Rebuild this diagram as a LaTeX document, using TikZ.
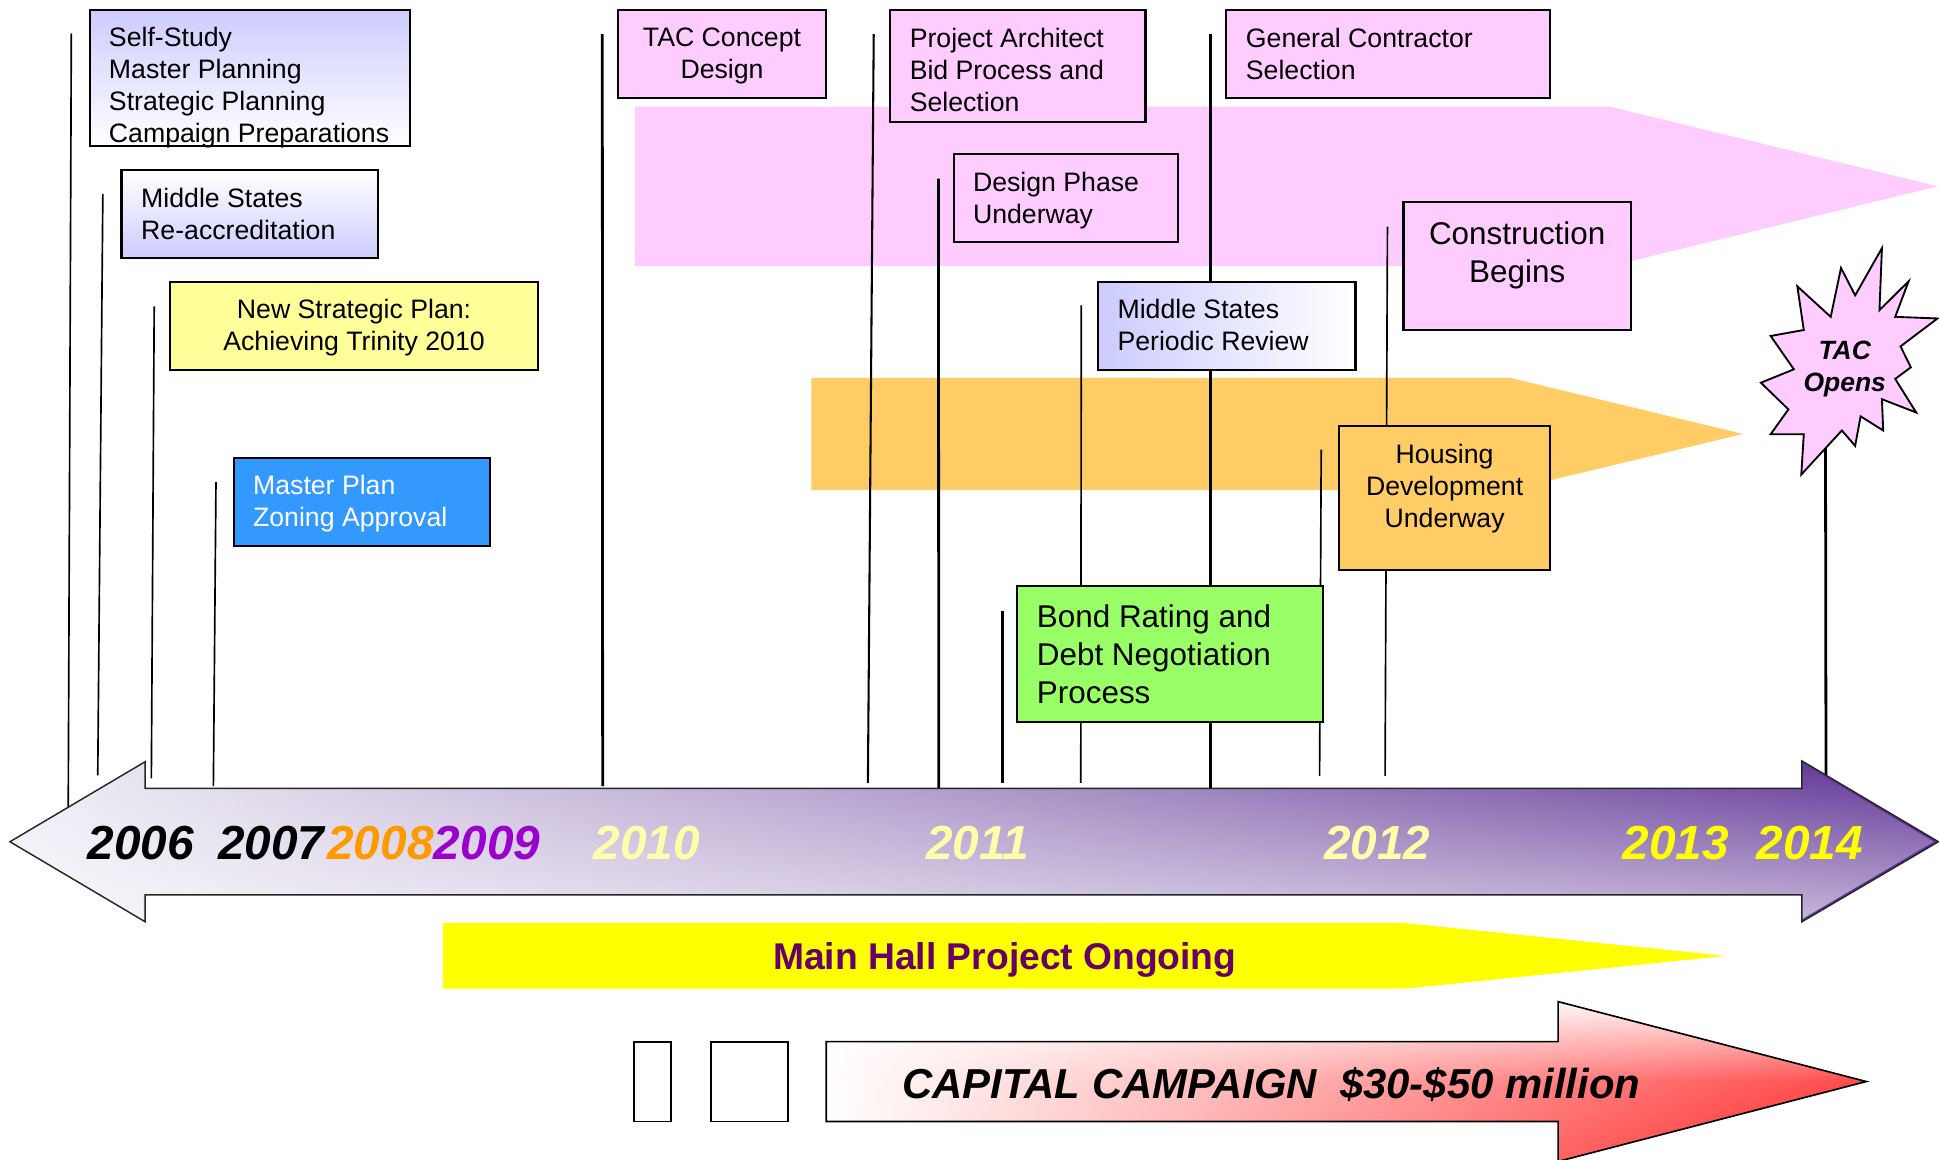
\documentclass[tikz,border=0pt]{standalone}
\usepackage{fontspec}
\setmainfont{Liberation Sans}
\usetikzlibrary{fit,fadings}
\definecolor{pinkc}{HTML}{FFCCFF}
\definecolor{orangec}{HTML}{FFCC66}
\definecolor{bandyellow}{HTML}{FFFF00}
\definecolor{paleyellow}{HTML}{FFFF99}
\definecolor{bluec}{HTML}{3399FF}
\definecolor{greenc}{HTML}{99FF66}
\definecolor{lav}{HTML}{CCCCFF}
\definecolor{hallc}{HTML}{660066}
\definecolor{y08}{HTML}{FF9900}
\definecolor{y09}{HTML}{9900CC}
\definecolor{ylt}{HTML}{FFFFAA}
\definecolor{ybright}{HTML}{FFFF00}
\definecolor{arrowdark}{HTML}{5A2D91}
\definecolor{arrowlight}{HTML}{F0EEF6}
\definecolor{campred}{HTML}{FF2020}
\tikzfading[name=fadebottom, top color=transparent!100, bottom color=transparent!0]
\tikzfading[name=fadetop, top color=transparent!0, bottom color=transparent!100, middle color=transparent!80]
\begin{document}
\begin{tikzpicture}[x=0.6pt,y=-0.6pt,
  box/.style={draw=black, line width=1.1pt, inner sep=0pt},
  txt/.style={inner sep=0pt, align=left, anchor=north west, font=\fontsize{12.9pt}{15.5pt}\selectfont},
  ctxt/.style={txt, align=center, anchor=north},
  bigtxt/.style={inner sep=0pt, align=left, anchor=north west, font=\fontsize{15.2pt}{18.5pt}\selectfont},
  yearlbl/.style={inner sep=0pt, font=\fontsize{23.1pt}{26pt}\selectfont\bfseries\itshape},
  leadthin/.style={line width=0.8pt},
  leadmid/.style={line width=1.0pt},
  leadthick/.style={line width=1.35pt}]
\useasboundingbox (0,0) rectangle (1563,934.26);
\fill[white] (0,0) rectangle (1563,934.26);

% bands
\fill[pinkc] (512,86) -- (1298,86) -- (1562,150.2) -- (1298,214.5) -- (512,214.5) -- cycle;
\fill[orangec] (654,304.5) -- (1217,304.5) -- (1405,349.8) -- (1217,395) -- (654,395) -- cycle;

% leader lines
\coordinate (l1t) at (57.5,26.8);   \coordinate (l1b) at (55,652);
\coordinate (l2t) at (82.9,156.3);  \coordinate (l2b) at (78.8,625);
\coordinate (l3t) at (124.3,247);   \coordinate (l3b) at (122,627.4);
\coordinate (l4t) at (174.1,388.6); \coordinate (l4b) at (172,633.6);
\coordinate (l5t) at (485.5,27.6);  \coordinate (l5b) at (485.8,633.6);
\coordinate (l6t) at (704.3,27.6);  \coordinate (l6b) at (699.6,631);
\coordinate (l7t) at (756.5,144);   \coordinate (l7b) at (756.7,635.5);
\coordinate (l8t) at (808.2,492.3); \coordinate (l8b) at (808.2,631);
\coordinate (l9t) at (871.6,246.2); \coordinate (l9b) at (871.2,631);
\coordinate (l10t) at (975.6,27.6); \coordinate (l10b) at (975.6,635.5);
\coordinate (l11t) at (1065,362.5); \coordinate (l11b) at (1063.7,625.5);
\coordinate (l12t) at (1118.4,182.6); \coordinate (l12b) at (1116.5,625.5);
\coordinate (l13t) at (1471.5,350); \coordinate (l13b) at (1471.9,626);
\draw[leadthin] (l1t) -- (l1b);
\draw[leadthin] (l2t) -- (l2b);
\draw[leadthin] (l3t) -- (l3b);
\draw[leadthin] (l4t) -- (l4b);
\draw[leadthick] (l5t) -- (l5b);
\draw[leadmid] (l6t) -- (l6b);
\draw[leadthick] (l7t) -- (l7b);
\draw[leadthick] (l8t) -- (l8b);
\draw[leadthin] (l9t) -- (l9b);
\draw[leadthick] (l10t) -- (l10b);
\draw[leadthin] (l11t) -- (l11b);
\draw[leadthin] (l12t) -- (l12b);
\draw[leadthick] (l13t) -- (l13b);

% boxes
\node[box, fit={(72.5,8) (330.6,117.7)}, top color=lav, bottom color=white] (selfstudy) {};
\node[txt] (selfstudytxt) at (87.5,21.5) {Self-Study\\Master Planning\\Strategic Planning\\Campaign Preparations};

\node[box, fit={(97.9,137) (304.8,207.9)}, top color=white, bottom color=lav] (msreacc) {};
\node[txt] (msreacctxt) at (113.5,151) {Middle States\\Re-accreditation};

\node[box, fill=paleyellow, fit={(137,227.4) (433.8,298.2)}] (newplan) {};
\node[ctxt] (newplantxt) at (285.4,240.7) {New Strategic Plan:\\Achieving Trinity 2010};

\node[box, fill=bluec, fit={(188.8,369.4) (395,439.9)}] (zoning) {};
\node[txt, text=white] (zoningtxt) at (203.7,382.8) {Master Plan\\Zoning Approval};

\node[box, fill=pinkc, fit={(498,8) (666,78.9)}] (tacconcept) {};
\node[ctxt] (tacconcepttxt) at (582,22) {TAC Concept\\Design};

\node[box, fill=pinkc, fit={(717.5,8) (923.4,98.4)}] (architect) {};
\node[txt] (architecttxt) at (733,22) {Project Architect\\Bid Process and\\Selection};

\node[box, fill=pinkc, fit={(769,124.4) (949.6,195.2)}] (designphase) {};
\node[txt] (designphasetxt) at (784,138.4) {Design Phase\\Underway};

\node[box, fill=pinkc, fit={(988.1,8) (1249.7,78.7)}] (contractor) {};
\node[txt] (contractortxt) at (1004,22) {General Contractor\\Selection};

\node[box, fit={(884.9,227.4) (1092.6,298)}, left color=lav, right color=white] (msperiodic) {};
\node[txt] (msperiodictxt) at (900.5,241) {Middle States\\Periodic Review};

\node[box, fill=pinkc, fit={(1131.3,162.6) (1315,265.9)}] (construction) {};
\node[bigtxt, align=center, anchor=north] (constructiontxt) at (1223,178.1) {Construction\\Begins};

\node[box, fill=orangec, fit={(1079.3,343.4) (1249.7,459.6)}] (housing) {};
\node[ctxt] (housingtxt) at (1164.5,357.5) {Housing\\Development\\Underway};

\node[box, fill=greenc, fit={(820,472.4) (1066.3,582.2)}] (bond) {};
\node[bigtxt] (bondtxt) at (835.5,487) {Bond Rating and\\Debt Negotiation\\Process};

% starburst
\draw[line width=0.9pt, fill=pinkc] (1517,200) -- (1515,250) -- (1538.5,226.7) -- (1527.7,255.4) -- (1561.8,256.7) -- (1532,279.2) -- (1540.3,296.1) -- (1527.7,305.4) -- (1544.6,332.5) -- (1517,321.8) -- (1518,347) -- (1499.8,335.6) -- (1495.4,359.4) -- (1484.7,347) -- (1452,382.5) -- (1454,350) -- (1427.3,350) -- (1441.6,330) -- (1419.4,308.5) -- (1446,297.7) -- (1427.3,270.8) -- (1454,266) -- (1448.8,230.8) -- (1475.7,255.4) -- (1484,216) -- (1495.4,238.1) -- cycle;
\node[inner sep=0pt, align=center, anchor=north, font=\fontsize{12.8pt}{15.6pt}\selectfont\bfseries\itshape] (tacopens) at (1487,274.4) {TAC\\Opens};

% main timeline arrow
\def\tlpath{(8,678.5) -- (117,614) -- (117,635.5) -- (1452.5,635.5) -- (1452.5,613.4) -- (1562.5,678.5)
  -- (1452.5,743) -- (1452.5,721.4) -- (117,721.4) -- (117,743) -- cycle}
\path[left color=arrowlight, right color=arrowdark] \tlpath;
\path[fill=white, fill opacity=0.64, path fading=fadebottom] \tlpath;
\draw[line width=0.7pt, draw=black!85] \tlpath;

\node[yearlbl, text=black] (y2006) at (113.4,679.5) {2006};
\node[yearlbl, text=black] (y2007) at (218.6,679.5) {2007};
\node[yearlbl, text=y08] (y2008) at (306.7,679.5) {2008};
\node[yearlbl, text=y09] (y2009) at (392.6,679.5) {2009};
\node[yearlbl, text=ylt] (y2010) at (521.4,679.5) {2010};
\node[yearlbl, text=ylt] (y2011) at (788,679.5) {2011};
\node[yearlbl, text=ylt] (y2012) at (1110.3,679.5) {2012};
\node[yearlbl, text=ybright] (y2013) at (1350.7,679.5) {2013};
\node[yearlbl, text=ybright] (y2014) at (1458.8,679.5) {2014};

% main hall band
\fill[bandyellow] (357,744) -- (1132,744) -- (1391,770.5) -- (1132,797) -- (357,797) -- cycle;
\node[inner sep=0pt, anchor=base, font=\fontsize{18pt}{21pt}\selectfont\bfseries, text=hallc] (hall) at (810,781.2) {Main Hall Project Ongoing};

% capital campaign
\node[box, line width=0.9pt, fit={(511,839.6) (541,904)}] (sq1) {};
\node[box, line width=0.9pt, fit={(573,839.6) (635,904)}] (sq2) {};
\def\cappath{(666,839.6) -- (1256,839.6) -- (1256,807.4) -- (1504.4,871.8) -- (1256,936.2) -- (1256,904) -- (666,904) -- cycle}
\path[left color=white, right color=campred] \cappath;
\path[fill=white, fill opacity=0.95, path fading=fadetop] \cappath;
\draw[line width=0.8pt] \cappath;
\node[inner sep=0pt, anchor=base, font=\fontsize{20.25pt}{24pt}\selectfont\bfseries\itshape] (captxt) at (1024.7,885.1) {CAPITAL CAMPAIGN\ \ \$30-\$50 million};
\end{tikzpicture}
\end{document}
